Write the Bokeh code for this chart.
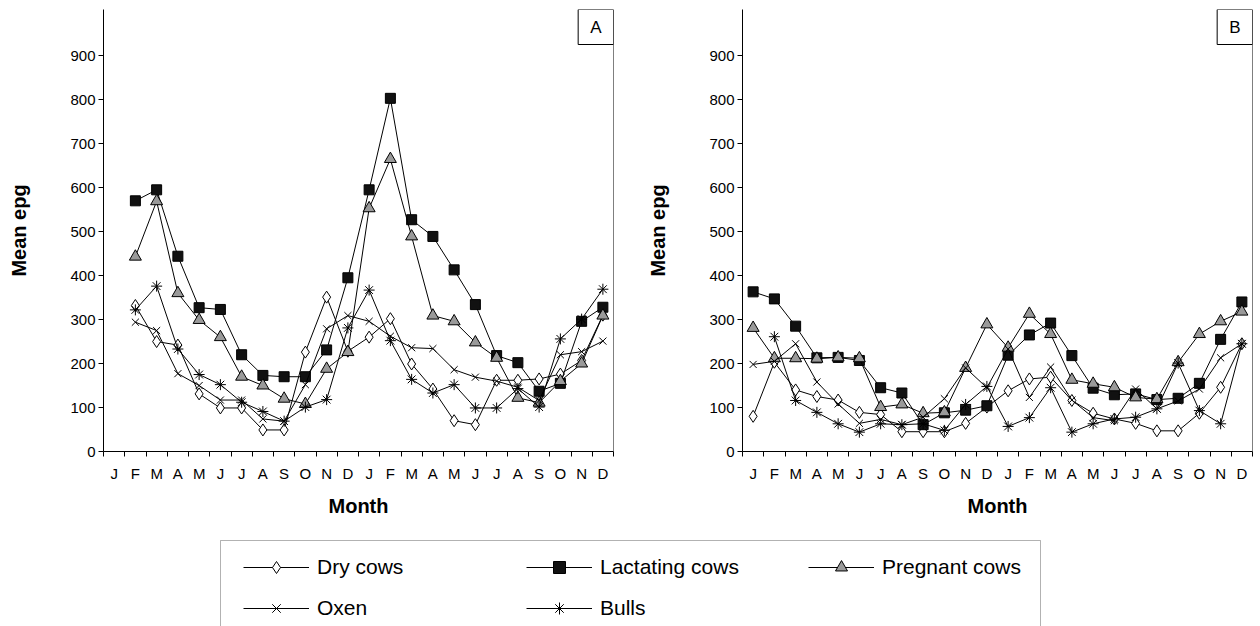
import numpy as np
from bokeh.plotting import figure
from bokeh.models import (ColumnDataSource, Range1d, FixedTicker, Span, Label,
                          Legend, LegendItem, BoxAnnotation)
from bokeh.layouts import column, row
from bokeh.embed import file_html
from bokeh.resources import INLINE

nan = np.nan

# ---------------- data ----------------
months = ["J", "F", "M", "A", "M", "J", "J", "A", "S", "O", "N", "D"] * 2
y_ticks = [0, 100, 200, 300, 400, 500, 600, 700, 800, 900]
series_names = ["Dry cows", "Lactating cows", "Pregnant cows", "Oxen", "Bulls"]

# Panel A (data start in February)
dry_a = [nan, 332, 250, 242, 131, 99, 99, 49, 49, 226, 351, 228,
         260, 302, 199, 142, 70, 61, 162, 162, 165, 176, 207, 310]
lact_a = [nan, 570, 595, 444, 327, 323, 220, 173, 170, 170, 231, 395,
          595, 803, 527, 489, 413, 334, 218, 202, 137, 155, 296, 328]
preg_a = [nan, 443, 569, 360, 299, 260, 170, 150, 120, 108, 188, 226,
          553, 665, 489, 309, 296, 248, 213, 122, 111, 160, 200, 309]
oxen_a = [nan, 294, 275, 177, 150, 117, 117, 74, 69, 152, 279, 309,
          296, 262, 236, 234, 186, 169, 160, 146, 116, 220, 227, 251]
bulls_a = [nan, 322, 376, 233, 175, 152, 112, 91, 69, 101, 118, 281,
           367, 252, 164, 133, 152, 99, 99, 143, 101, 256, 301, 369]

# Panel B
dry_b = [80, 203, 140, 125, 117, 89, 84, 45, 45, 45, 64, 101,
         138, 165, 169, 116, 87, 74, 64, 47, 47, 87, 146, 245]
lact_b = [363, 347, 285, 213, 214, 207, 145, 133, 61, 88, 94, 104,
          219, 265, 292, 218, 144, 129, 131, 118, 121, 155, 255, 340]
preg_b = [281, 212, 212, 211, 214, 212, 101, 107, 87, 89, 190, 289,
          236, 313, 267, 163, 154, 146, 123, 119, 203, 267, 296, 318]
oxen_b = [198, 205, 245, 158, 108, 64, 73, 61, 78, 120, 190, 145,
          233, 123, 192, 117, 77, 70, 142, 97, 115, 142, 213, 245]
bulls_b = [nan, 261, 116, 89, 63, 44, 63, 61, 63, 48, 107, 148,
           57, 77, 145, 44, 63, 74, 78, 97, 201, 93, 63, 245]

# ---------------- styles ----------------
FONT = "Liberation Sans"
INK = "black"
styles = {
    "Dry cows": dict(marker="diamond", size=12, fill_color="white"),
    "Lactating cows": dict(marker="square", size=10, fill_color="#111111"),
    "Pregnant cows": dict(marker="triangle", size=12, fill_color="#9a9a9a"),
    "Oxen": dict(marker="x", size=10, fill_color=None),
    "Bulls": dict(marker="asterisk", size=11, fill_color=None),
}

PH = 526  # panel height


def make_panel(tag, cols, b_left, b_right, width):
    src = ColumnDataSource(dict(x=np.arange(len(months)),
                                **{k: np.array(v, dtype=float) for k, v in cols.items()}))
    p = figure(width=width, height=PH,
               x_range=Range1d(-0.5, len(months) - 0.5), y_range=Range1d(0, 1005),
               output_backend="svg", toolbar_location=None,
               min_border_left=b_left, min_border_right=b_right,
               min_border_top=9, min_border_bottom=75)
    p.grid.visible = False
    p.outline_line_color = None
    p.background_fill_color = "white"
    p.border_fill_color = "white"

    for name in series_names:
        st = styles[name]
        p.line("x", name, source=src, line_color=INK, line_width=1)
        p.scatter("x", name, source=src, marker=st["marker"], size=st["size"],
                  fill_color=st["fill_color"], line_color=INK, line_width=1)

    xa = p.xaxis[0]
    xa.ticker = FixedTicker(ticks=list(range(len(months))),
                            minor_ticks=[i - 0.5 for i in range(len(months) + 1)])
    xa.major_label_overrides = {i: m for i, m in enumerate(months)}
    xa.major_tick_out = 0
    xa.major_tick_in = 0
    xa.minor_tick_out = 5
    xa.minor_tick_in = 0
    xa.minor_tick_line_color = INK
    xa.major_label_standoff = 8
    xa.axis_label = "Month"
    xa.axis_label_standoff = 10

    ya = p.yaxis[0]
    ya.ticker = FixedTicker(ticks=y_ticks)
    ya.major_tick_out = 5
    ya.major_tick_in = 0
    ya.minor_tick_line_color = None
    ya.major_label_standoff = 3
    ya.axis_label = "Mean epg"
    ya.axis_label_standoff = 37

    for ax in (xa, ya):
        ax.axis_line_color = INK
        ax.major_tick_line_color = INK
        ax.major_label_text_color = INK
        ax.major_label_text_font = FONT
        ax.major_label_text_font_size = "15px"
        ax.axis_label_text_color = INK
        ax.axis_label_text_font = FONT
        ax.axis_label_text_font_size = "20px"
        ax.axis_label_text_font_style = "bold"

    p.add_layout(Span(location=len(months) - 0.5, dimension="height",
                      line_color=INK, line_width=1))
    p.add_layout(Label(x=len(months) - 0.5, y=1005, text=tag, anchor="top_right",
                       text_font=FONT, text_font_size="17px", text_color=INK,
                       border_line_color=INK, border_line_width=1,
                       background_fill_color="white", padding=(12, 8)))
    return p


pA = make_panel("A", {"Dry cows": dry_a, "Lactating cows": lact_a,
                      "Pregnant cows": preg_a, "Oxen": oxen_a, "Bulls": bulls_a},
                103, 17, 630)
pB = make_panel("B", {"Dry cows": dry_b, "Lactating cows": lact_b,
                      "Pregnant cows": preg_b, "Oxen": oxen_b, "Bulls": bulls_b},
                112, 6, 628)

# ---------------- legend panel ----------------
LW, LH = 1258, 100
pL = figure(width=LW, height=LH, x_range=Range1d(0, LW), y_range=Range1d(0, LH),
            output_backend="svg", toolbar_location=None,
            x_axis_location=None, y_axis_location=None,
            min_border_left=0, min_border_right=0, min_border_top=0, min_border_bottom=0)
pL.grid.visible = False
pL.outline_line_color = None
pL.add_layout(BoxAnnotation(left=220, right=1040, top=86, bottom=-20,
                            fill_color=None, fill_alpha=0, line_color=INK, line_width=1))

leg_pos = {
    "Dry cows": (243, 44), "Lactating cows": (526, 44), "Pregnant cows": (808, 44),
    "Oxen": (243, 3), "Bulls": (526, 3),
}
for name in series_names:
    st = styles[name]
    dummy = ColumnDataSource(dict(x=np.array([nan]), y=np.array([nan])))
    lr = pL.line("x", "y", source=dummy, line_color=INK, line_width=1)
    sr = pL.scatter("x", "y", source=dummy, marker=st["marker"], size=st["size"],
                    fill_color=st["fill_color"], line_color=INK, line_width=1)
    leg = Legend(items=[LegendItem(label=name, renderers=[lr, sr])],
                 location=leg_pos[name], orientation="horizontal",
                 border_line_color=None, background_fill_alpha=0,
                 padding=0, margin=0, spacing=0,
                 glyph_width=66, glyph_height=30, label_height=30,
                 label_standoff=8, label_text_font=FONT,
                 label_text_font_size="21px", label_text_color=INK)
    pL.add_layout(leg)

layout = column(row(pA, pB), pL)
open("out.html", "w").write(file_html(layout, INLINE))
